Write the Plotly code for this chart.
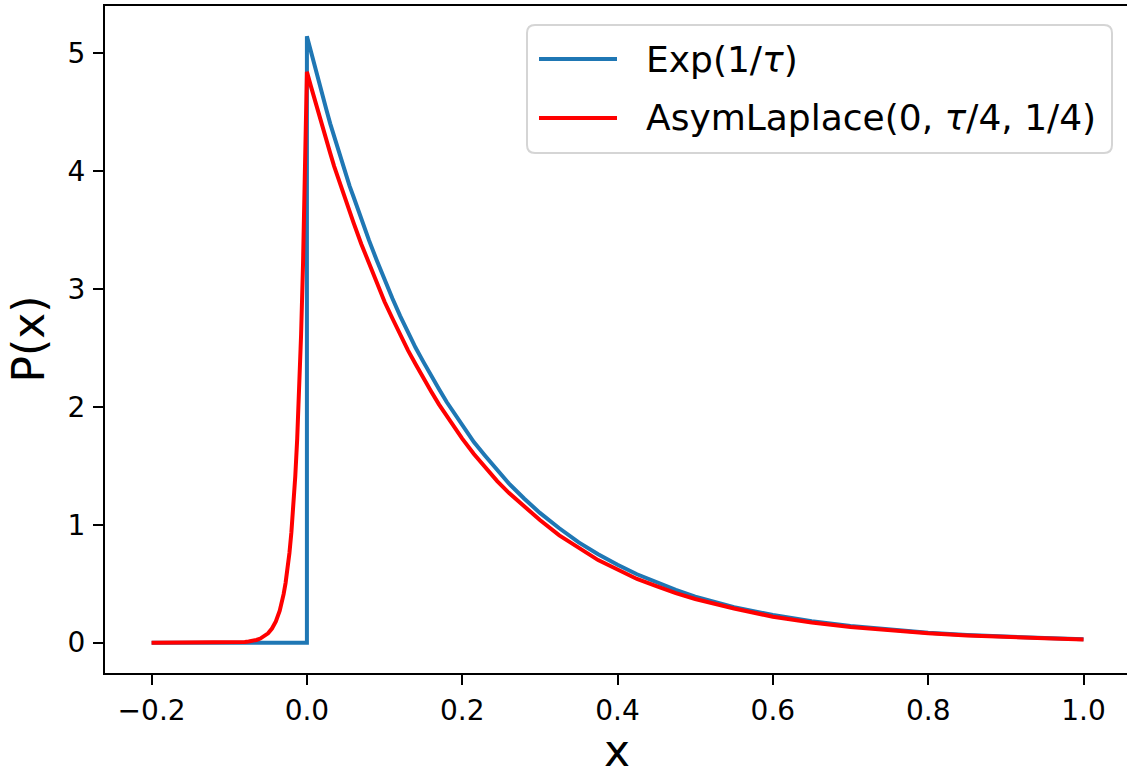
import plotly.graph_objects as go

# ---- data ----
exp_x = [-0.2, -0.1, 0.0, 0.0, 0.005, 0.01, 0.015, 0.02, 0.025, 0.03, 0.035, 0.04, 0.045,
         0.05, 0.055, 0.06, 0.07, 0.08, 0.09, 0.10, 0.11, 0.12, 0.13, 0.14, 0.15,
         0.16, 0.17, 0.18, 0.19, 0.20, 0.215, 0.23, 0.245, 0.26, 0.28, 0.30, 0.325,
         0.35, 0.375, 0.40, 0.425, 0.45, 0.475, 0.50, 0.55, 0.60, 0.65, 0.70, 0.75,
         0.80, 0.85, 0.90, 0.95, 1.00]
exp_y = [0.0, 0.0, 0.0, 5.14, 5.01, 4.88, 4.76, 4.64, 4.52, 4.40, 4.29, 4.18, 4.08,
         3.98, 3.87, 3.78, 3.59, 3.41, 3.24, 3.07, 2.92, 2.77, 2.63, 2.50, 2.38,
         2.26, 2.15, 2.04, 1.94, 1.84, 1.70, 1.58, 1.46, 1.35, 1.22, 1.10, 0.97,
         0.85, 0.75, 0.66, 0.58, 0.51, 0.447, 0.39, 0.30, 0.235, 0.182, 0.141, 0.109,
         0.084, 0.065, 0.050, 0.039, 0.030]

al_x = [-0.2, -0.15, -0.1, -0.09, -0.08, -0.075, -0.07, -0.065, -0.06, -0.055, -0.05,
        -0.045, -0.04, -0.035, -0.0325, -0.03, -0.0275, -0.025, -0.0225, -0.02,
        -0.0175, -0.015, -0.0125, -0.01, -0.0075, -0.005, 0.0,
        0.005, 0.01, 0.015, 0.02, 0.025, 0.03, 0.035, 0.04, 0.045, 0.05, 0.055, 0.06,
        0.07, 0.08, 0.09, 0.10, 0.11, 0.12, 0.13, 0.14, 0.15, 0.16, 0.17, 0.18, 0.19,
        0.20, 0.215, 0.23, 0.245, 0.26, 0.28, 0.30, 0.325, 0.35, 0.375, 0.40, 0.425,
        0.45, 0.475, 0.50, 0.55, 0.60, 0.65, 0.70, 0.75, 0.80, 0.85, 0.90, 0.95, 1.00]
al_y = [0.0, 0.0, 0.0013, 0.003, 0.0067, 0.010, 0.015, 0.023, 0.035, 0.053, 0.079,
        0.120, 0.181, 0.272, 0.335, 0.411, 0.505, 0.620, 0.76, 0.935,
        1.15, 1.41, 1.73, 2.13, 2.61, 3.21, 4.84,
        4.72, 4.60, 4.48, 4.37, 4.26, 4.15, 4.04, 3.94, 3.84, 3.74, 3.65, 3.56,
        3.38, 3.21, 3.05, 2.89, 2.75, 2.61, 2.48, 2.36, 2.24, 2.13, 2.02, 1.92, 1.82,
        1.73, 1.60, 1.48, 1.37, 1.27, 1.15, 1.04, 0.91, 0.80, 0.70, 0.62, 0.54,
        0.48, 0.42, 0.37, 0.29, 0.22, 0.171, 0.133, 0.103, 0.079, 0.061, 0.047, 0.037, 0.028]

x_ticks = [-0.2, 0.0, 0.2, 0.4, 0.6, 0.8, 1.0]
x_tick_labels = ["\u22120.2", "0.0", "0.2", "0.4", "0.6", "0.8", "1.0"]
y_ticks = [0, 1, 2, 3, 4, 5]
y_tick_labels = ["0", "1", "2", "3", "4", "5"]

series_names = ["Exp(1/<i>τ</i>)", "AsymLaplace(0, <i>τ</i>/4, 1/4)"]
x_title = "x"
y_title = "P(x)"
blue = "#1f77b4"
red = "#ff0000"

W, H = 1127, 771
L, R, T, B = 105, 0, 6, 98
FONT = "DejaVu Sans"

fig = go.Figure()
fig.add_trace(go.Scatter(x=exp_x, y=exp_y, mode="lines",
                         line=dict(color=blue, width=4), showlegend=False))
fig.add_trace(go.Scatter(x=al_x, y=al_y, mode="lines",
                         line=dict(color=red, width=4), showlegend=False))

pw = W - L - R
ph = H - T - B


def px2paper(px, py):
    return (px - L) / pw, (H - B - py) / ph


# manual legend
bx0, by0 = px2paper(527, 25)
bx1, by1 = px2paper(1112, 153)
r = 8
rx, ry = r / pw, r / ph
path = (f"M{bx0+rx},{by0} L{bx1-rx},{by0} Q{bx1},{by0} {bx1},{by0-ry} "
        f"L{bx1},{by1+ry} Q{bx1},{by1} {bx1-rx},{by1} L{bx0+rx},{by1} "
        f"Q{bx0},{by1} {bx0},{by1+ry} L{bx0},{by0-ry} Q{bx0},{by0} {bx0+rx},{by0} Z")
shapes = [dict(type="path", path=path, xref="paper", yref="paper",
               line=dict(color="#d5d5d5", width=2), fillcolor="rgba(255,255,255,0.8)",
               layer="above")]
annotations = []
for i, (name, col) in enumerate(zip(series_names, [blue, red])):
    yy = 59 + i * 59
    lx0, ly = px2paper(539, yy)
    lx1, _ = px2paper(617, yy)
    shapes.append(dict(type="line", xref="paper", yref="paper", x0=lx0, x1=lx1,
                       y0=ly, y1=ly, line=dict(color=col, width=4), layer="above"))
    tx, _ = px2paper(644, yy)
    annotations.append(dict(text=name, xref="paper", yref="paper", x=tx, y=ly,
                            xanchor="left", yanchor="middle", showarrow=False,
                            font=dict(family=FONT, size=36, color="black")))

# axis titles
ax_x, ax_y = px2paper(617, 750)
annotations.append(dict(text=x_title, xref="paper", yref="paper", x=ax_x, y=ax_y,
                        xanchor="center", yanchor="middle", showarrow=False,
                        font=dict(family=FONT, size=44, color="black")))
ay_x, ay_y = px2paper(28, 339.5)
annotations.append(dict(text=y_title, xref="paper", yref="paper", x=ay_x, y=ay_y,
                        xanchor="center", yanchor="middle", showarrow=False,
                        textangle=-90,
                        font=dict(family=FONT, size=44, color="black")))

fig.update_layout(
    width=W, height=H,
    margin=dict(l=L, r=R, t=T, b=B, pad=0),
    paper_bgcolor="white", plot_bgcolor="white",
    font=dict(family=FONT, color="black"),
    shapes=shapes, annotations=annotations,
    xaxis=dict(range=[-0.26, 1.056], tickvals=x_ticks, ticktext=x_tick_labels,
               ticks="outside", ticklen=10, tickwidth=2, tickcolor="black",
               ticklabelstandoff=1, automargin=False,
               showline=True, linecolor="black", linewidth=2, mirror=True,
               showgrid=False, zeroline=False,
               tickfont=dict(family=FONT, size=28, color="black")),
    yaxis=dict(range=[-0.257, 5.397], tickvals=y_ticks, ticktext=y_tick_labels,
               ticks="outside", ticklen=10, tickwidth=2, tickcolor="black",
               ticklabelstandoff=2, automargin=False,
               showline=True, linecolor="black", linewidth=2, mirror=False,
               showgrid=False, zeroline=False,
               tickfont=dict(family=FONT, size=28, color="black")),
)

fig.write_html("out.html", config={"displayModeBar": False},
               post_script="document.body.style.margin='0';document.body.style.overflow='hidden';")
